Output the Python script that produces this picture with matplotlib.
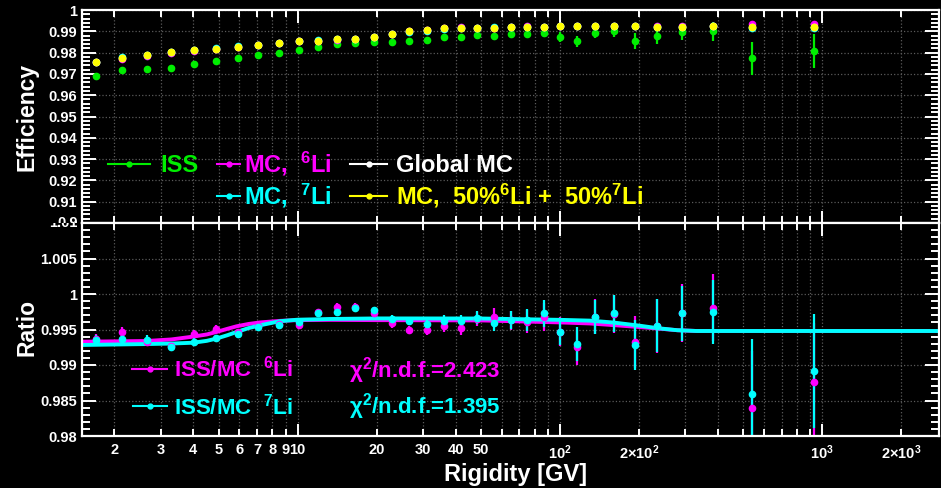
import matplotlib
matplotlib.use('Agg')
import matplotlib.pyplot as plt
from matplotlib.lines import Line2D
from matplotlib.ticker import FixedLocator, FuncFormatter, MultipleLocator
from matplotlib.transforms import Bbox, TransformedBbox

# ======================================================================================================================
# Data
# ======================================================================================================================
rigidity = [1.70, 2.14, 2.66, 3.29, 4.01, 4.88, 5.91, 7.08, 8.49, 10.09, 11.98, 14.08, 16.58, 19.54, 22.88,
            26.64, 31.02, 36.13, 42.05, 48.38, 56.02, 64.9, 75.0, 86.9, 100.3, 116.4, 136.0, 160.6, 192.7,
            234.3, 292.6, 382.0, 541.0, 927.0]

eff_iss = [0.9692, 0.9717, 0.9721, 0.9729, 0.9745, 0.9762, 0.9776, 0.9790, 0.9800, 0.9812, 0.9828, 0.9839,
           0.9845, 0.9848, 0.9850, 0.9854, 0.9858, 0.9875, 0.9875, 0.9883, 0.9880, 0.9886, 0.9886, 0.9890,
           0.9873, 0.9853, 0.9890, 0.9901, 0.9853, 0.9878, 0.9897, 0.9901, 0.9773, 0.9808]
err_iss = [0.0002, 0.0002, 0.0002, 0.0002, 0.0002, 0.0002, 0.0002, 0.0002, 0.0002, 0.0002, 0.0002, 0.0002,
           0.0003, 0.0003, 0.0003, 0.0003, 0.0003, 0.0004, 0.0004, 0.0005, 0.0006, 0.0008, 0.0015, 0.0014,
           0.0022, 0.0026, 0.0023, 0.0026, 0.0037, 0.0039, 0.0040, 0.0045, 0.0079, 0.0081]

eff_mc6 = [0.9754, 0.9772, 0.9785, 0.9799, 0.9808, 0.9815, 0.9826, 0.9835, 0.9843, 0.9853, 0.9855, 0.9861,
           0.9864, 0.9875, 0.9887, 0.9902, 0.9907, 0.9915, 0.9918, 0.9917, 0.9916, 0.9922, 0.9923, 0.9921,
           0.9925, 0.9925, 0.9924, 0.9927, 0.9926, 0.9923, 0.9923, 0.9927, 0.9935, 0.9934]
eff_mc7 = [0.9758, 0.9779, 0.9789, 0.9803, 0.9814, 0.9822, 0.9830, 0.9837, 0.9845, 0.9855, 0.9857, 0.9863,
           0.9866, 0.9875, 0.9885, 0.9898, 0.9903, 0.9913, 0.9916, 0.9917, 0.9919, 0.9922, 0.9921, 0.9919,
           0.9925, 0.9923, 0.9924, 0.9925, 0.9924, 0.9921, 0.9921, 0.9923, 0.9915, 0.9916]
eff_global = [0.9756, 0.9775, 0.9787, 0.9801, 0.9811, 0.9818, 0.9828, 0.9836, 0.9844, 0.9854, 0.9856, 0.9862,
              0.9865, 0.9875, 0.9886, 0.9900, 0.9905, 0.9914, 0.9917, 0.9917, 0.9917, 0.9922, 0.9922, 0.9920,
              0.9925, 0.9924, 0.9924, 0.9926, 0.9925, 0.9922, 0.9922, 0.9925, 0.9919, 0.9920]
eff_mix = [0.9756, 0.9775, 0.9787, 0.9801, 0.9811, 0.9818, 0.9828, 0.9836, 0.9844, 0.9854, 0.9856, 0.9862,
           0.9865, 0.9875, 0.9886, 0.9900, 0.9905, 0.9914, 0.9917, 0.9917, 0.9917, 0.9922, 0.9922, 0.9920,
           0.9925, 0.9924, 0.9924, 0.9926, 0.9925, 0.9922, 0.9922, 0.9925, 0.9919, 0.9920]
err_mc = [0.0001] * 24 + [0.0002, 0.0002, 0.0002, 0.0002, 0.0002, 0.0003, 0.0003, 0.0003, 0.0005, 0.0005]

ratio_6 = [0.9936, 0.9946, 0.9933, 0.99268, 0.99437, 0.99507, 0.9946, 0.99549, 0.99573, 0.99563, 0.9974,
           0.99822, 0.9982, 0.99728, 0.99587, 0.99493, 0.99493, 0.99549, 0.99517, 0.99643, 0.99681, 0.9963,
           0.9961, 0.9968, 0.9947, 0.9925, 0.9968, 0.9972, 0.99324, 0.9955, 0.9973, 0.99807, 0.98394, 0.98765]
ratio_7 = [0.9935, 0.99366, 0.99357, 0.99249, 0.99328, 0.99376, 0.99437, 0.99531, 0.99559, 0.9961, 0.99728,
           0.99742, 0.99808, 0.9977, 0.99648, 0.9962, 0.99573, 0.99624, 0.9962, 0.99666, 0.99587, 0.99634,
           0.99634, 0.99728, 0.99469, 0.993, 0.9968, 0.99728, 0.99277, 0.99554, 0.99728, 0.99746, 0.98592,
           0.98915]
err_ratio_7 = [0.0007, 0.0006, 0.0006, 0.0005, 0.0005, 0.0005, 0.0005, 0.0005, 0.0005, 0.0005, 0.0005, 0.0005,
               0.0005, 0.0005, 0.0006, 0.0005, 0.0007, 0.0008, 0.0009, 0.0009, 0.0011, 0.0012, 0.0015, 0.0019,
               0.0019, 0.0024, 0.0024, 0.0026, 0.0035, 0.0037, 0.0039, 0.0045, 0.0077, 0.0080]
err_ratio_6 = [0.0007, 0.0007, 0.0006, 0.0005, 0.0005, 0.0005, 0.0005, 0.0005, 0.0005, 0.0005, 0.0005, 0.0005,
               0.0005, 0.0005, 0.0006, 0.0006, 0.0007, 0.0008, 0.0009, 0.0010, 0.0012, 0.0013, 0.0016, 0.0020,
               0.0020, 0.0025, 0.0025, 0.0027, 0.0036, 0.0038, 0.0041, 0.0047, 0.0080, 0.0083]

# fitted curves (read at a set of rigidities)
fit_r6 = [1.5, 2.65, 3.3, 4.0, 4.5, 4.9, 5.4, 5.85, 6.5, 7.2, 8.6, 10, 13.3, 20, 50, 100, 130, 160, 200, 234,
          280, 332, 2800]
fit_v6 = [0.99328, 0.99338, 0.99360, 0.99400, 0.99430, 0.99465, 0.99510, 0.99545, 0.99578, 0.99600, 0.99622,
          0.99632, 0.99636, 0.99632, 0.99628, 0.99600, 0.99585, 0.99562, 0.99535, 0.99515, 0.99490, 0.99479,
          0.99479]
fit_r7 = [1.5, 2.65, 3.3, 4.0, 4.5, 4.9, 5.4, 5.85, 6.5, 7.2, 8.6, 10, 13.3, 20, 50, 100, 130, 160, 200, 234,
          280, 332, 2800]
fit_v7 = [0.99282, 0.99295, 0.99302, 0.99314, 0.99340, 0.99372, 0.99420, 0.99465, 0.99520, 0.99560, 0.99618,
          0.99638, 0.99648, 0.99656, 0.99655, 0.99636, 0.99625, 0.99598, 0.99555, 0.99520, 0.99490, 0.99479,
          0.99479]

chi2_6 = 2.423
chi2_7 = 1.395

# ======================================================================================================================
# Style
# ======================================================================================================================
W, H = 941, 488
FONT = ['Liberation Sans', 'DejaVu Sans']
plt.rcParams['font.family'] = FONT
plt.rcParams['font.weight'] = 'bold'
plt.rcParams['mathtext.fontset'] = 'custom'
plt.rcParams['mathtext.rm'] = 'Liberation Sans:bold'
plt.rcParams['mathtext.it'] = 'Liberation Sans:bold'
plt.rcParams['mathtext.bf'] = 'Liberation Sans:bold'
plt.rcParams['mathtext.default'] = 'rm'

GREEN = '#00ee00'
MAGENTA = '#ff00ff'
CYAN = '#00ffff'
YELLOW = '#ffff00'
GRID = '#5a5a5a'


def fx(x):
    return x / W


def fy(y):
    return 1 - y / H


fig = plt.figure(figsize=(W / 100, H / 100), dpi=100, facecolor='black')
ax1 = fig.add_axes([fx(82), fy(223), (939 - 82) / W, (223 - 10) / H])
ax2 = fig.add_axes([fx(82), fy(436), (939 - 82) / W, (436 - 223) / H])

major_x = [10, 100, 1000]
minor_x = [m * d for d in (1, 10, 100, 1000) for m in range(2, 10)]
minor_lab = {2: '2', 3: '3', 4: '4', 5: '5', 6: '6', 7: '7', 8: '8', 9: '9', 20: '20', 30: '30', 40: '40',
             50: '50', 200: r'2$\times$10$^{2}$', 2000: r'2$\times$10$^{3}$'}
major_lab = {10: '10', 100: r'10$^{2}$', 1000: r'10$^{3}$'}

for ax in (ax1, ax2):
    ax.set_facecolor('black')
    ax.set_xscale('log')
    ax.set_xlim(1.506, 2786)
    ax.xaxis.set_major_locator(FixedLocator(major_x))
    ax.xaxis.set_minor_locator(FixedLocator(minor_x))
    for s in ax.spines.values():
        s.set_color('white')
        s.set_linewidth(1.6)
    ax.tick_params(which='both', direction='in', colors='white', top=True, right=True, width=1.4,
                   labelsize=10.5)
    ax.tick_params(axis='y', which='major', length=10)
    ax.tick_params(axis='y', which='minor', length=6)
    ax.tick_params(axis='x', which='major', length=9)
    ax.tick_params(axis='x', which='minor', length=5)
    ax.grid(True, axis='x', which='both', ls=':', color=GRID, lw=0.9)
    ax.grid(True, axis='y', which='major', ls=':', color=GRID, lw=0.9)
    ax.set_axisbelow(True)

# ----------------------------------------------------------------------------------------------------------------------
# Top panel: efficiencies
ax1.set_ylim(0.9, 1.0)
ax1.yaxis.set_major_locator(FixedLocator([0.91, 0.92, 0.93, 0.94, 0.95, 0.96, 0.97, 0.98, 0.99, 1.0]))
ax1.yaxis.set_minor_locator(MultipleLocator(0.002))
ax1.yaxis.set_major_formatter(FuncFormatter(lambda v, p: '1' if abs(v - 1) < 1e-9 else '%.2f' % v))
ax1.tick_params(axis='x', which='both', labelbottom=False)

pt = dict(fmt='o', ms=4.5, elinewidth=1.6, capsize=0, linestyle='none')
ax1.errorbar(rigidity, eff_iss, yerr=err_iss, color=GREEN, **pt)
ax1.errorbar(rigidity, eff_mc6, yerr=err_mc, color=MAGENTA, **pt)
ax1.errorbar(rigidity, eff_mc7, yerr=err_mc, color=CYAN, **pt)
ax1.errorbar(rigidity, eff_global, yerr=err_mc, color='white', **pt)
ax1.errorbar(rigidity, eff_mix, yerr=err_mc, color=YELLOW, **pt)

# ----------------------------------------------------------------------------------------------------------------------
# Bottom panel: ratios
ax2.set_ylim(0.98, 1.01)
ax2.yaxis.set_major_locator(FixedLocator([0.98, 0.985, 0.99, 0.995, 1.0, 1.005]))
ax2.yaxis.set_minor_locator(MultipleLocator(0.001))
ax2.yaxis.set_major_formatter(FuncFormatter(lambda v, p: '1' if abs(v - 1) < 1e-9 else ('%g' % round(v, 3))))
ax2.xaxis.set_major_formatter(FuncFormatter(lambda v, p: major_lab.get(int(round(v)), '')))
ax2.xaxis.set_minor_formatter(FuncFormatter(lambda v, p: minor_lab.get(int(round(v)), '')))
ax2.tick_params(axis='x', which='both', pad=5, labelsize=10.5)

ax2.errorbar(rigidity, ratio_6, yerr=err_ratio_6, color=MAGENTA, **pt)
ax2.plot(fit_r6, fit_v6, color=MAGENTA, lw=2.8, solid_capstyle='butt')
ax2.errorbar(rigidity, ratio_7, yerr=err_ratio_7, color=CYAN, **pt)
ax2.plot(fit_r7, fit_v7, color=CYAN, lw=2.8, solid_capstyle='butt')

# ----------------------------------------------------------------------------------------------------------------------
# Axis titles
fig.text(fx(27), fy(117), 'Efficiency', rotation=90, ha='center', va='center', color='white', fontsize=16.5)
fig.text(fx(27), fy(328), 'Ratio', rotation=90, ha='center', va='center', color='white', fontsize=16.5)
fig.text(fx(587), fy(481), 'Rigidity [GV]', ha='right', va='baseline', color='white', fontsize=17)

# clipped labels at the pad boundary (0.9 of top pad, 1.01 of bottom pad)
t1 = fig.text(fx(78), fy(223), '0.9', ha='right', va='center', color='white', fontsize=10.5)
t1.set_clip_box(TransformedBbox(Bbox([[0, fy(223)], [fx(82), 1]]), fig.transFigure))
t2 = fig.text(fx(78), fy(223), '1.01', ha='right', va='center', color='white', fontsize=10.5)
t2.set_clip_box(TransformedBbox(Bbox([[0, 0], [fx(82), fy(223)]]), fig.transFigure))


# ----------------------------------------------------------------------------------------------------------------------
# Legends
def legend_entry(x0, x1, y, color, text, tx, base, size=17):
    fig.add_artist(Line2D([fx(x0), fx(x1)], [fy(y), fy(y)], transform=fig.transFigure, color=color, lw=1.5))
    fig.add_artist(Line2D([fx((x0 + x1) / 2)], [fy(y)], transform=fig.transFigure, color=color, marker='o',
                          ms=3.5, linestyle='none'))
    fig.text(fx(tx), fy(base), text, color=color, fontsize=size, ha='left', va='baseline')


legend_entry(108, 150, 164, GREEN, 'ISS', 160, 172)
legend_entry(217, 240, 164, MAGENTA, r'MC,  $^{6}$Li', 244, 172)
legend_entry(350, 387, 164, 'white', 'Global MC', 396, 172)
legend_entry(217, 240, 196, CYAN, r'MC,  $^{7}$Li', 244, 204)
legend_entry(350, 387, 196, YELLOW, r'MC,  50%$^{6}$Li +  50%$^{7}$Li', 396, 204)

legend_entry(132, 167, 369, MAGENTA, r'ISS/MC  $^{6}$Li', 174, 377, size=16)
legend_entry(133, 167, 406, CYAN, r'ISS/MC  $^{7}$Li', 174, 414, size=16)
fig.text(fx(349), fy(377), r'$\chi^{2}$/n.d.f.=%.3f' % chi2_6, color=MAGENTA, fontsize=16, ha='left',
         va='baseline')
fig.text(fx(349), fy(414), r'$\chi^{2}$/n.d.f.=%.3f' % chi2_7, color=CYAN, fontsize=16, ha='left',
         va='baseline')

fig.savefig('out.png', dpi=100, facecolor='black')
